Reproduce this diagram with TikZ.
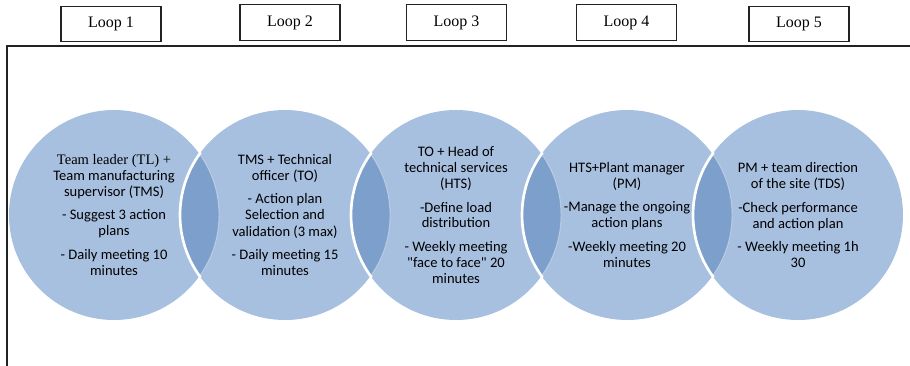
\documentclass[tikz,border=0pt]{standalone}
\usepackage{fontspec}
\setmainfont{Liberation Serif}
\newfontfamily\calfont{Carlito}
\definecolor{cLight}{HTML}{A8C0DF}
\definecolor{cDark}{HTML}{7C9FCB}
\definecolor{frameC}{HTML}{222222}
\tikzset{
  loopbox/.style={draw=frameC, line width=0.8pt, minimum width=75pt, minimum height=26.5pt, inner sep=0pt, font=\fontsize{12}{14}\selectfont},
  venn/.style={circle, minimum size=157.5pt, inner sep=0pt, fill=cLight},
  vtext/.style={align=center, inner sep=0pt, font=\calfont\fontsize{10.9}{12}\selectfont},
}
\newcommand{\Rv}{78.75pt}
\newcommand{\pgap}{\\[5.6pt]}
\begin{document}
\begin{tikzpicture}[x=0.75pt,y=-0.75pt]
\useasboundingbox (0,0) rectangle (910,365);
% loop boxes
\node[loopbox] (l1) at (111,24) {Loop 1};
\node[loopbox] (l2) at (290,22.5) {Loop 2};
\node[loopbox] (l3) at (456.5,22.5) {Loop 3};
\node[loopbox] (l4) at (626.5,22.5) {Loop 4};
\node[loopbox] (l5) at (799,24) {Loop 5};
% frame
\coordinate (fbl) at (7,366);
\coordinate (ftl) at (7,46);
\coordinate (ftr) at (911,46);
\draw[frameC, line width=1.1pt] (fbl) -- (ftl) -- (ftr);
% circles
\node[venn] (c1) at (114,215) {};
\node[venn] (c2) at (285,215) {};
\node[venn] (c3) at (456,215) {};
\node[venn] (c4) at (627,215) {};
\node[venn] (c5) at (798,215) {};
% lenses
\foreach \a/\b in {c1/c2,c2/c3,c3/c4,c4/c5}{
  \begin{scope}
    \clip (\a.center) circle[radius=\Rv];
    \fill[cDark] (\b.center) circle[radius=\Rv];
  \end{scope}
  \begin{scope}
    \clip (\b.center) circle[radius=\Rv];
    \draw[white, opacity=0.35, line width=0.7pt] (\a.center) circle[radius=\Rv];
  \end{scope}
  \begin{scope}
    \clip (\a.center) circle[radius=\Rv+1.5pt];
    \draw[white, line width=2pt] (\b.center) circle[radius=\Rv];
  \end{scope}
}
% texts
\node[vtext] (t1) at (c1.center) {{\rmfamily Team leader (TL) +}\\Team manufacturing\\supervisor (TMS)\pgap - Suggest 3 action\\plans\pgap - Daily meeting 10\\minutes};
\node[vtext] (t2) at (c2.center) {TMS + Technical\\officer (TO)\pgap - Action plan\\Selection and\\validation (3 max)\pgap - Daily meeting 15\\minutes};
\node[vtext] (t3) at (c3.center) {TO + Head of\\technical services\\(HTS)\pgap -Define load\\distribution\pgap - Weekly meeting\\"face to face" 20\\minutes};
\node[vtext] (t4) at (c4.center) {HTS+Plant manager\\(PM)\pgap -Manage the ongoing\\action plans\pgap -Weekly meeting 20\\minutes};
\node[vtext] (t5) at (c5.center) {PM + team direction\\of the site (TDS)\pgap -Check performance\\and action plan\pgap - Weekly meeting 1h\\30};
\end{tikzpicture}
\end{document}
